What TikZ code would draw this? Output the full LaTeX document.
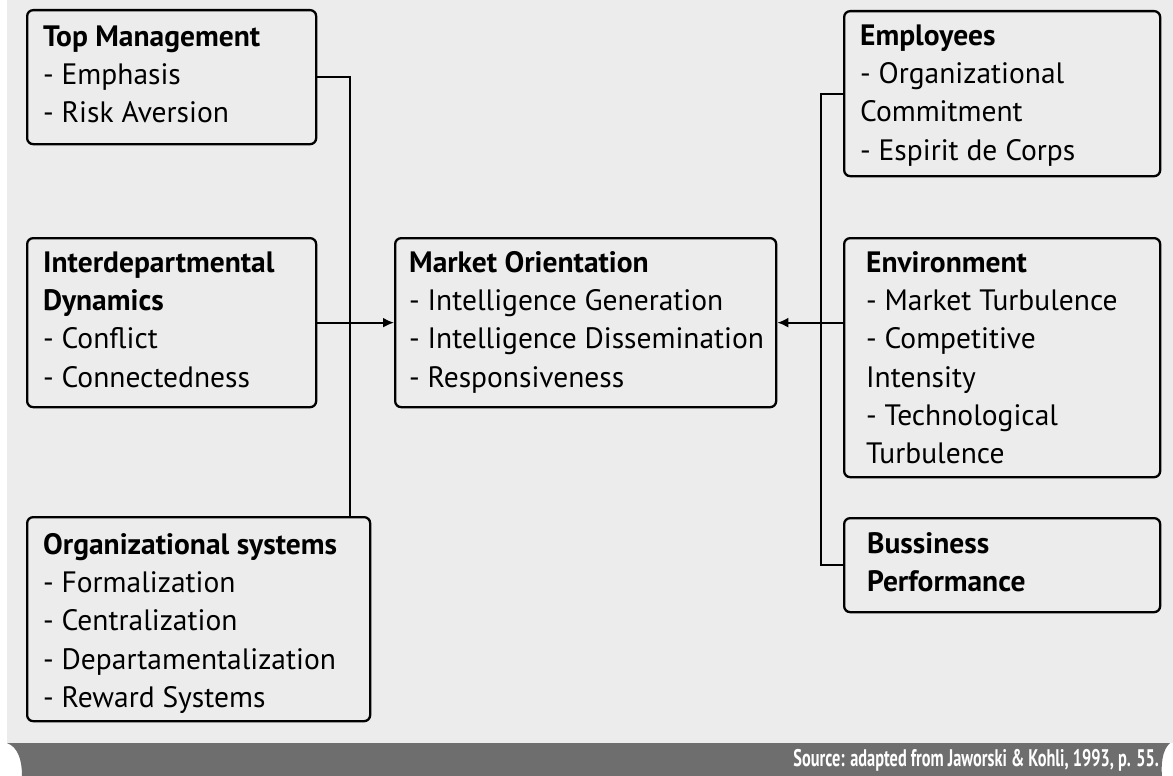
\documentclass[tikz,border=0pt]{standalone}
\usepackage{fontspec}
\setmainfont{PT Sans}
\usetikzlibrary{arrows.meta}
\definecolor{bgc}{HTML}{ECECEC}
\definecolor{barc}{HTML}{6E6E6E}
\newcommand{\boxbody}[5]{\parbox[c][#2][t]{#1}{\setlength{\parindent}{0pt}\raggedright\setlength{\leftskip}{#3}\fontsize{29.5}{38.3}\selectfont\setlength{\lineskiplimit}{-100pt}\rule{0pt}{#4}#5}}
\tikzset{
  box/.style={draw=black, line width=2.3pt, rounded corners=6pt, inner sep=0pt, anchor=north west, fill=bgc},
  conn/.style={draw=black, line width=2pt},
  arr/.style={conn, -{Latex[length=11pt,width=10pt]}}
}
\begin{document}
\begin{tikzpicture}[x=1pt,y=-1pt]
\useasboundingbox (0,0) rectangle (1173,776);
\fill[white] (0,0) rectangle (1173,776);
\fill[bgc] (7,0) rectangle (1173,743);
\fill[barc] (7,743) -- (1170,743) .. controls (1162,750) and (1161,765) .. (1162,776) -- (22,776) .. controls (22,760) and (18,747) .. (7,743) -- cycle;
\node[anchor=base east, text=white, inner sep=0pt] (src) at (1159,766) {\fontsize{24}{26}\selectfont\bfseries\scalebox{0.68}[1]{Source: adapted from Jaworski \& Kohli, 1993, p. 55.}};

\node[box] (tm) at (26,9) {\boxbody{289pt}{134pt}{16pt}{36pt}{\textbf{Top Management}\\- Emphasis\\- Risk\ Aversion}};
\node[box] (idd) at (26,237) {\boxbody{289pt}{169pt}{16pt}{34pt}{\textbf{Interdepartmental}\\\textbf{Dynamics}\\- Conflict\\- Connectedness}};
\node[box] (org) at (26,516) {\boxbody{343pt}{204pt}{16pt}{37pt}{\textbf{Organizational systems}\\- Formalization\\- Centralization\\- Departamentalization\\- Reward Systems}};
\node[box] (mo) at (394,237) {\boxbody{381pt}{169pt}{14pt}{34pt}{\textbf{Market Orientation}\\- Intelligence Generation\\- Intelligence Dissemination\\- Responsiveness}};
\node[box] (emp) at (843,10) {\boxbody{316pt}{165pt}{16pt}{34pt}{\textbf{Employees}\\- Organizational\\Commitment\\- Espirit de Corps}};
\node[box] (env) at (843,237) {\boxbody{316pt}{239pt}{22pt}{34pt}{\textbf{Environment}\\- Market Turbulence\\- Competitive\\Intensity\\- Technological\\Turbulence}};
\node[box] (bp) at (843,517) {\boxbody{316pt}{94pt}{23pt}{35pt}{\textbf{Bussiness}\\\textbf{Performance}}};

\coordinate (busL) at (350,0);
\coordinate (busR) at (821,0);
\draw[conn] (tm.east) -| (busL |- org.north);
\draw[arr] (idd.east) -- (mo.west);
\draw[conn] (emp.west) -| (busR |- bp.west) -- (bp.west);
\draw[arr] (env.west |- mo.east) -- (mo.east);
\end{tikzpicture}
\end{document}
